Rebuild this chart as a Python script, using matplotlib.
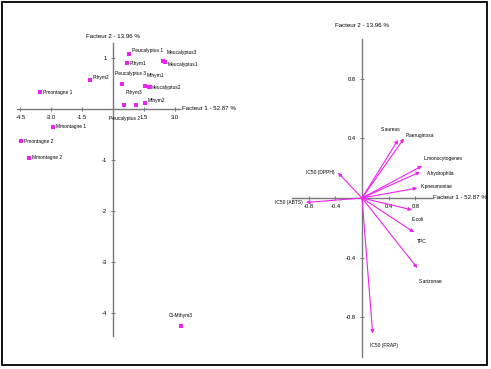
import matplotlib
matplotlib.use("Agg")
import matplotlib.pyplot as plt
from matplotlib.patches import Rectangle

plt.rcParams['font.family'] = ['Liberation Sans Narrow', 'Liberation Sans', 'DejaVu Sans']

# scores of the samples (left map)
samples = ["Peucalyptus 1", "Pthym1", "Meucalyptus3", "Meucalyptus1", "Peucalyptus 3",
           "Mthym1", "Meucalyptus2", "Pthym3", "Peucalyptus 2", "Mthym2", "Pthym2",
           "Pmontagne 1", "Mmontagne 1", "Pmontagne 2", "Mmontagne 2", "Ct-Mthym3"]
f1_scores = [0.78, 0.68, 2.43, 2.52, 0.44, 1.55, 1.75, 1.12, 0.53, 1.55, -1.12,
             -3.54, -2.91, -4.47, -4.08, 3.30]
f2_scores = [1.08, 0.90, 0.94, 0.92, 0.49, 0.45, 0.43, 0.08, 0.08, 0.12, 0.57,
             0.33, -0.35, -0.63, -0.96, -4.25]

# loadings of the variables (right circle)
variables = ["S.aureus", "P.aeruginosa", "L.monocytogenes", "A.hydrophila", "K.pneumoniae",
             "E.coli", "TPC", "S.arizonae", "IC50 (FRAP)", "IC50 (ABTS)", "IC50 (DPPH)"]
f1_load = [0.54, 0.63, 0.90, 0.87, 0.83, 0.75, 0.78, 0.83, 0.16, -0.84, -0.36]
f2_load = [0.39, 0.40, 0.215, 0.175, 0.067, -0.08, -0.23, -0.47, -0.91, -0.03, 0.17]

# label offsets in pixels (dx, dy, ha)
s_off = {"Peucalyptus 1": (3, 3, 'left'), "Pthym1": (3, 0, 'left'),
         "Meucalyptus3": (4, 9, 'left'), "Meucalyptus1": (3, -2, 'left'),
         "Peucalyptus 3": (-7, 11, 'left'), "Mthym1": (2, 11, 'left'),
         "Meucalyptus2": (2, 0, 'left'), "Pthym3": (-2, 12, 'center'),
         "Peucalyptus 2": (1, -14, 'center'), "Mthym2": (3, 2, 'left'),
         "Pthym2": (3, 2, 'left'), "Pmontagne 1": (3, 0, 'left'),
         "Mmontagne 1": (3, 0, 'left'), "Pmontagne 2": (3, 0, 'left'),
         "Mmontagne 2": (3, 0, 'left'), "Ct-Mthym3": (0, 10, 'center')}
v_off = {"S.aureus": (-7, 10, 'center'), "P.aeruginosa": (2, 3, 'left'),
         "L.monocytogenes": (2, 7, 'left'), "A.hydrophila": (7, -2, 'left'),
         "K.pneumoniae": (3, 2, 'left'), "E.coli": (0, -10, 'left'),
         "TPC": (3, -9, 'left'), "S.arizonae": (1, -13, 'left'),
         "IC50 (FRAP)": (-3, -12, 'left'), "IC50 (ABTS)": (-3, 0, 'right'),
         "IC50 (DPPH)": (-3, 0, 'right')}

W, H = 491, 369
mag = '#ee22ee'
axcol = '#7a7a7a'
fs_pt, fs_tick, fs_title = 3.5, 4.2, 4.4

fig = plt.figure(figsize=(W / 100, H / 100), dpi=100)
fig.patch.set_facecolor('white')


def place(ax, origin, unit, xlim, ylim):
    x0 = origin[0] + xlim[0] * unit[0]
    x1 = origin[0] + xlim[1] * unit[0]
    ytop = origin[1] - ylim[1] * unit[1]
    ybot = origin[1] - ylim[0] * unit[1]
    ax.set_xlim(xlim)
    ax.set_ylim(ylim)
    ax.set_position([x0 / W, 1 - ybot / H, (x1 - x0) / W, (ybot - ytop) / H])


def style_axes(ax, xb, yb, xt, yt, xtl, ytl):
    for s in ['top', 'right']:
        ax.spines[s].set_visible(False)
    for s in ['left', 'bottom']:
        ax.spines[s].set_position(('data', 0))
        ax.spines[s].set_color(axcol)
        ax.spines[s].set_linewidth(1.0)
    ax.spines['bottom'].set_bounds(*xb)
    ax.spines['left'].set_bounds(*yb)
    ax.set_xticks(xt)
    ax.set_xticklabels(xtl)
    ax.set_yticks(yt)
    ax.set_yticklabels(ytl)
    ax.tick_params(direction='inout', length=3, width=0.7, color=axcol,
                   labelsize=fs_tick, pad=3)
    ax.patch.set_alpha(0)


# left: sample map
ax1 = fig.add_axes([0, 0, 1, 1])
place(ax1, (113, 109), (20.6, 51), (-5.4, 4.0), (-4.9, 2.1))
style_axes(ax1, (-4.65, 3.25), (-4.45, 1.3),
           [-4.5, -3.0, -1.5, 1.5, 3.0], [-4, -3, -2, -1, 1],
           ['-4.5', '-3.0', '-1.5', '1.5', '3.0'], ['-4', '-3', '-2', '-1', '1'])
ax1.plot(f1_scores, f2_scores, 's', color=mag, markersize=2.3, markeredgewidth=0)
for n, x, y in zip(samples, f1_scores, f2_scores):
    dx, dy, ha = s_off[n]
    ax1.annotate(n, (x, y), xytext=(dx, dy), textcoords='offset pixels',
                 fontsize=fs_pt, ha=ha, va='center')
ax1.annotate("Facteur 2 - 13.96 %", (0, 1.3), xytext=(0, 6), textcoords='offset pixels',
             fontsize=fs_title, ha='center', va='center')
ax1.annotate("Facteur 1 - 52.87 %", (3.25, 0), xytext=(2, 0), textcoords='offset pixels',
             fontsize=fs_title, ha='left', va='center')

# right: correlation circle
ax2 = fig.add_axes([0, 0, 1, 1])
place(ax2, (362, 198), (66.7, 149), (-0.95, 1.75), (-1.1, 1.2))
style_axes(ax2, (-1.05, 1.05), (-1.07, 1.07),
           [-0.8, -0.4, 0.4, 0.8], [-0.8, -0.4, 0.4, 0.8],
           ['-0.8', '-0.4', '0.4', '0.8'], ['-0.8', '-0.4', '0.4', '0.8'])
for n, x, y in zip(variables, f1_load, f2_load):
    ax2.annotate('', xy=(x, y), xytext=(0, 0),
                 arrowprops=dict(arrowstyle='-|>', color=mag, lw=0.8,
                                 mutation_scale=5, shrinkA=0, shrinkB=0))
    dx, dy, ha = v_off[n]
    ax2.annotate(n, (x, y), xytext=(dx, dy), textcoords='offset pixels',
                 fontsize=fs_pt, ha=ha, va='center')
ax2.annotate("Facteur 2 - 13.96 %", (0, 1.07), xytext=(0, 13), textcoords='offset pixels',
             fontsize=fs_title, ha='center', va='center')
ax2.annotate("Facteur 1 - 52.87 %", (1.05, 0), xytext=(1, 0), textcoords='offset pixels',
             fontsize=fs_title, ha='left', va='center')

# frame around the whole picture
fig.add_artist(Rectangle((2 / W, 4 / H), 485 / W, 363 / H, transform=fig.transFigure,
                         fill=False, edgecolor='black', linewidth=1.3))

fig.savefig("out.png", dpi=100)
